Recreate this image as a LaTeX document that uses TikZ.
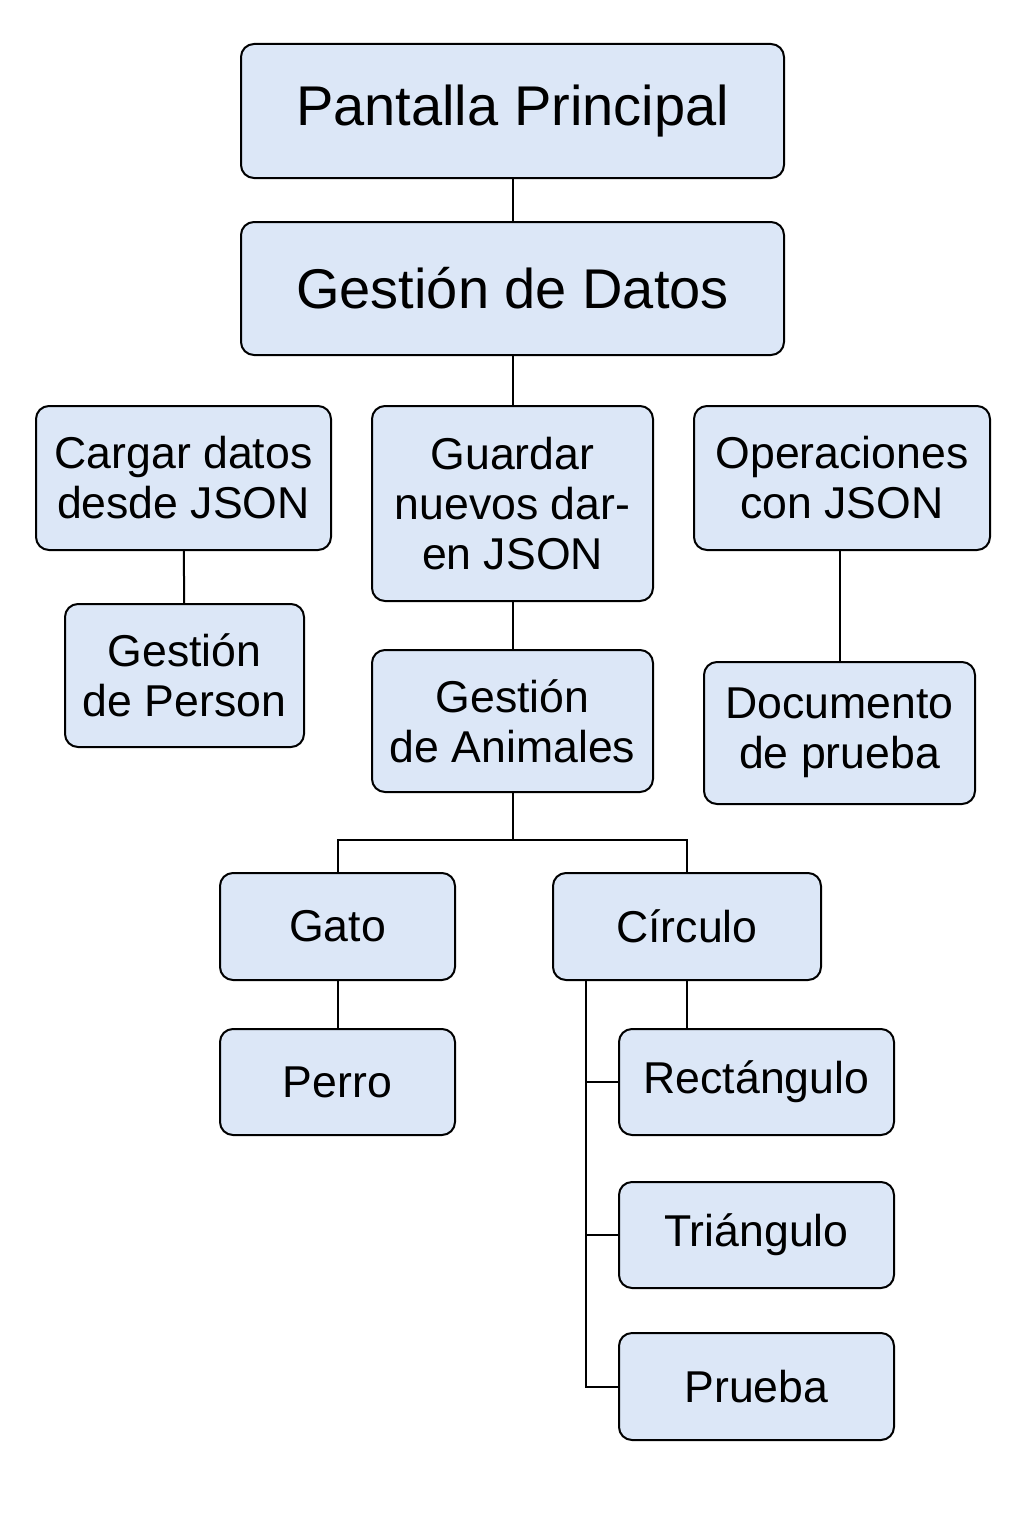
\documentclass[tikz,border=0pt]{standalone}
\usepackage{fontspec}
\setmainfont{Liberation Sans}
\definecolor{boxfill}{HTML}{DCE7F7}
\tikzset{
  box/.style={draw=black, fill=boxfill, line width=1pt, rounded corners=6.5pt,
    align=center, inner sep=0pt, font=\fontsize{22.3pt}{25pt}\selectfont},
  bigbox/.style={box, font=\fontsize{28pt}{32pt}\selectfont},
  link/.style={draw=black, line width=1pt}
}
\begin{document}
\begin{tikzpicture}[x=0.5pt, y=-0.5pt]
\useasboundingbox (0,0) rectangle (1024,1536);
% top levels
\node[bigbox, minimum width=271.5pt, minimum height=67pt] (pantalla) at (512.5,111) {Pantalla Principal};
\node[bigbox, minimum width=271.5pt, minimum height=66.5pt] (datos) at (512.5,288.5) {Gestión de Datos};
% second row
\node[box, minimum width=147.5pt, minimum height=72pt] (cargar) at (183.5,478) {Cargar datos\\ desde JSON};
\node[box, minimum width=140.5pt, minimum height=97.5pt] (guardar) at (512.5,503.5) {Guardar\\nuevos dar-\\en JSON};
\node[box, minimum width=148pt, minimum height=72pt] (operaciones) at (842,478) {Operaciones\\con JSON};
\node[box, minimum width=119.5pt, minimum height=71.5pt] (person) at (184.5,675.5) {Gestión\\de Person};
\node[box, minimum width=140.5pt, minimum height=71pt] (animales) at (512.5,721) {Gestión\\de Animales};
\node[box, minimum width=135.5pt, minimum height=71pt] (documento) at (839.5,733) {Documento\\de prueba};
% animals
\node[box, minimum width=117.5pt, minimum height=53.5pt] (gato) at (337.5,926.5) {Gato};
\node[box, minimum width=134pt, minimum height=53.5pt] (circulo) at (687,926.5) {Círculo};
\node[box, minimum width=117.5pt, minimum height=53pt] (perro) at (337.5,1082) {Perro};
\node[box, minimum width=137.5pt, minimum height=53pt] (rectangulo) at (756.5,1082) {Rectángulo};
\node[box, minimum width=137.5pt, minimum height=53pt] (triangulo) at (756.5,1235) {Triángulo};
\node[box, minimum width=137.5pt, minimum height=53.5pt] (prueba) at (756.5,1386.5) {Prueba};
% connectors
\coordinate (split) at (512.5,840);
\coordinate (rail) at (586,980);
\draw[link] (pantalla) -- (datos);
\draw[link] (datos) -- (guardar);
\draw[link] (cargar) -- (person);
\draw[link] (guardar) -- (animales);
\draw[link] (operaciones.south -| documento) -- (documento);
\draw[link] (animales) -- (split) -| (gato);
\draw[link] (split) -| (circulo);
\draw[link] (gato) -- (perro);
\draw[link] (circulo) -- (rectangulo.north -| circulo);
\draw[link] (rail) |- (prueba);
\draw[link] (rail |- rectangulo) -- (rectangulo);
\draw[link] (rail |- triangulo) -- (triangulo);
\end{tikzpicture}
\end{document}
